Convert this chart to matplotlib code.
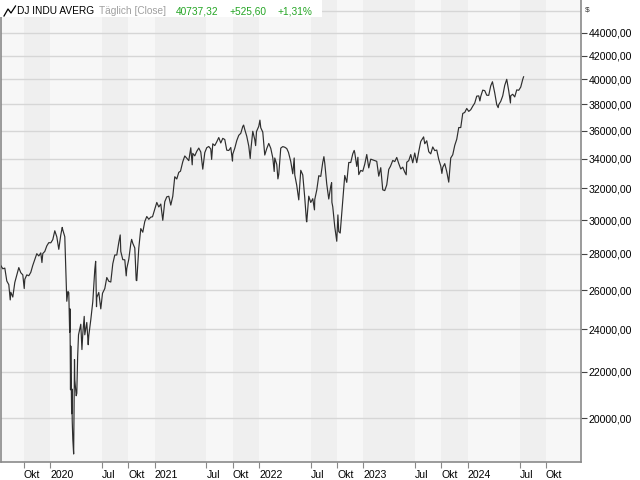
import matplotlib
matplotlib.use("Agg")
import matplotlib.pyplot as plt
import matplotlib.dates as mdates
from matplotlib.patches import Rectangle
from matplotlib.lines import Line2D
from matplotlib.ticker import FixedLocator, NullLocator, FixedFormatter
import pandas as pd

plt.rcParams['font.family'] = ['Liberation Sans', 'DejaVu Sans']

# ---------------- data ----------------
dates = [
 "2019-07-12","2019-07-19","2019-07-26","2019-08-02","2019-08-09","2019-08-14","2019-08-16","2019-08-23","2019-08-30",
 "2019-09-06","2019-09-13","2019-09-20","2019-09-27","2019-10-02","2019-10-04","2019-10-11","2019-10-18","2019-10-25",
 "2019-11-01","2019-11-08","2019-11-15","2019-11-22","2019-11-29","2019-12-03","2019-12-06","2019-12-13","2019-12-20",
 "2019-12-27","2020-01-03","2020-01-10","2020-01-17","2020-01-24","2020-01-31","2020-02-07","2020-02-12","2020-02-14",
 "2020-02-21","2020-02-28","2020-03-03","2020-03-06","2020-03-09","2020-03-10","2020-03-12","2020-03-13","2020-03-16",
 "2020-03-17","2020-03-18","2020-03-20","2020-03-23","2020-03-26","2020-03-27","2020-04-01","2020-04-03","2020-04-06",
 "2020-04-09","2020-04-17","2020-04-21","2020-04-24","2020-04-29","2020-05-01","2020-05-08","2020-05-13","2020-05-15",
 "2020-05-22","2020-05-29","2020-06-05","2020-06-08","2020-06-11","2020-06-12","2020-06-19","2020-06-26","2020-07-02",
 "2020-07-10","2020-07-17","2020-07-24","2020-07-31","2020-08-07","2020-08-14","2020-08-21","2020-08-28","2020-09-02",
 "2020-09-04","2020-09-11","2020-09-18","2020-09-23","2020-09-25","2020-10-02","2020-10-09","2020-10-12","2020-10-16",
 "2020-10-23","2020-10-28","2020-10-30","2020-11-06","2020-11-13","2020-11-20","2020-11-27","2020-12-04","2020-12-11",
 "2020-12-18","2020-12-24","2020-12-31","2021-01-08","2021-01-15","2021-01-22","2021-01-29","2021-02-05","2021-02-12",
 "2021-02-19","2021-02-26","2021-03-05","2021-03-12","2021-03-19","2021-03-26","2021-04-01","2021-04-09","2021-04-16",
 "2021-04-23","2021-04-30","2021-05-07","2021-05-12","2021-05-14","2021-05-21","2021-05-28","2021-06-04","2021-06-11",
 "2021-06-18","2021-06-25","2021-07-02","2021-07-09","2021-07-16","2021-07-19","2021-07-23","2021-07-30","2021-08-06",
 "2021-08-13","2021-08-20","2021-08-27","2021-09-03","2021-09-10","2021-09-17","2021-09-24","2021-09-30","2021-10-01",
 "2021-10-08","2021-10-15","2021-10-22","2021-10-29","2021-11-05","2021-11-08","2021-11-12","2021-11-19","2021-11-26",
 "2021-12-01","2021-12-03","2021-12-10","2021-12-17","2021-12-20","2021-12-23","2021-12-31","2022-01-04","2022-01-07",
 "2022-01-14","2022-01-21","2022-01-28","2022-02-04","2022-02-11","2022-02-18","2022-02-23","2022-02-25","2022-03-04",
 "2022-03-08","2022-03-11","2022-03-18","2022-03-25","2022-04-01","2022-04-08","2022-04-14","2022-04-22","2022-04-29",
 "2022-05-04","2022-05-06","2022-05-13","2022-05-20","2022-05-27","2022-06-03","2022-06-10","2022-06-16","2022-06-17",
 "2022-06-24","2022-07-01","2022-07-08","2022-07-14","2022-07-15","2022-07-22","2022-07-29","2022-08-05","2022-08-12",
 "2022-08-16","2022-08-19","2022-08-26","2022-09-02","2022-09-09","2022-09-12","2022-09-13","2022-09-16","2022-09-23",
 "2022-09-30","2022-10-04","2022-10-07","2022-10-12","2022-10-14","2022-10-21","2022-10-28","2022-11-04","2022-11-11",
 "2022-11-18","2022-11-25","2022-11-30","2022-12-02","2022-12-09","2022-12-13","2022-12-16","2022-12-23","2022-12-30",
 "2023-01-06","2023-01-13","2023-01-20","2023-01-27","2023-02-03","2023-02-10","2023-02-17","2023-02-24","2023-03-03",
 "2023-03-10","2023-03-17","2023-03-24","2023-03-31","2023-04-06","2023-04-14","2023-04-21","2023-04-28","2023-05-05",
 "2023-05-12","2023-05-19","2023-05-26","2023-05-31","2023-06-02","2023-06-09","2023-06-16","2023-06-23","2023-06-30",
 "2023-07-07","2023-07-14","2023-07-21","2023-07-28","2023-07-31","2023-08-04","2023-08-11","2023-08-18","2023-08-25",
 "2023-09-01","2023-09-08","2023-09-15","2023-09-22","2023-09-29","2023-10-03","2023-10-06","2023-10-13","2023-10-20",
 "2023-10-27","2023-11-03","2023-11-10","2023-11-17","2023-11-24","2023-12-01","2023-12-08","2023-12-15","2023-12-22",
 "2023-12-29","2024-01-05","2024-01-12","2024-01-19","2024-01-26","2024-02-02","2024-02-09","2024-02-13","2024-02-16",
 "2024-02-23","2024-03-01","2024-03-08","2024-03-15","2024-03-22","2024-03-28","2024-04-05","2024-04-12","2024-04-17",
 "2024-04-19","2024-04-26","2024-05-03","2024-05-10","2024-05-17","2024-05-24","2024-05-30","2024-05-31","2024-06-07",
 "2024-06-14","2024-06-21","2024-06-28","2024-07-05","2024-07-12","2024-07-15",
]
closes = [
 27332,27154,27192,26485,26287,25479,25886,25629,26403,
 26797,27220,26935,26820,26079,26573,26817,26770,26958,
 27347,27681,28005,27876,28051,27503,28015,28135,28455,
 28645,28634,28823,29348,28989,28256,29102,29551,29398,
 28992,25409,25917,25864,23851,25018,21200,23185,20189,
 21237,19899,19174,18592,22552,21636,20944,21053,22680,
 23719,24242,23019,23775,24634,23724,24331,23248,23685,
 24465,25383,27111,27572,25128,25606,25871,25016,25827,
 26075,26672,26470,26428,27433,27931,27930,28654,29100,
 28133,27666,27657,26763,27174,27683,28587,28838,28606,
 28336,26520,26502,28323,29480,29263,29910,30218,30046,
 30179,30200,30606,31098,30814,30997,29983,31148,31458,
 31494,30932,31496,32779,32628,33073,33153,33801,34200,
 34043,33875,34778,33587,34382,34208,34529,34756,34480,
 33290,34434,34786,34870,34688,33962,35062,34935,35209,
 35515,35120,35456,35369,34608,34585,34798,33844,34326,
 34746,35295,35677,35820,36328,36432,36100,35602,34899,
 34022,34580,35971,35365,34932,35951,36338,36800,36231,
 35912,34265,34725,35089,34738,34079,33132,34059,33615,
 32633,32945,34755,34861,34818,34721,34451,33811,32977,
 34061,32899,32197,31262,33213,32900,31393,29927,29889,
 31501,31097,31338,30630,31289,31899,32845,32803,33761,
 34152,33707,32283,31318,32152,32381,31105,30822,29590,
 28726,30317,29297,29211,29635,31083,32862,32403,33748,
 33746,34347,34590,34430,33477,34109,32920,33204,33147,
 33631,34303,33375,33978,33926,33869,33827,32817,33391,
 31910,31862,32238,33274,33485,33887,33809,34098,33674,
 33301,33427,33093,32908,33763,33877,34299,33727,34408,
 33735,34509,35228,35459,35560,35066,35281,34500,34347,
 34838,34577,34618,33964,33508,33002,33408,33670,33127,
 32418,34061,34283,34947,35390,36246,36248,37306,37385,
 37690,37466,37593,37863,38109,38654,38671,38273,38628,
 39131,39087,38723,38715,39475,39807,38904,37983,37753,
 37986,38240,38676,39513,40004,39070,38112,38686,38799,
 38589,39150,39119,39376,40001,40212,
]
y_ticks = [20000, 22000, 24000, 26000, 28000, 30000, 32000, 34000, 36000, 38000, 40000, 42000, 44000, 46000]
y_labels = ["20000,00", "22000,00", "24000,00", "26000,00", "28000,00", "30000,00", "32000,00",
            "34000,00", "36000,00", "38000,00", "40000,00", "42000,00", "44000,00", ""]
x_tick_dates = ["2019-10-01", "2020-01-01", "2020-07-01", "2020-10-01", "2021-01-01", "2021-07-01",
                "2021-10-01", "2022-01-01", "2022-07-01", "2022-10-01", "2023-01-01", "2023-07-01",
                "2023-10-01", "2024-01-01", "2024-07-01", "2024-10-01"]
x_tick_labels = ["Okt", "2020", "Jul", "Okt", "2021", "Jul", "Okt", "2022", "Jul", "Okt", "2023",
                 "Jul", "Okt", "2024", "Jul", "Okt"]
title_name = "DJ INDU AVERG"
title_mode = "Täglich [Close]"
last_value = "40737,32"
change_abs = "+525,60"
change_pct = "+1,31%"

# ---------------- figure ----------------
W, H = 640, 480
fig = plt.figure(figsize=(6.4, 4.8), dpi=100)
fig.patch.set_facecolor("white")
ax = fig.add_axes([0.8 / W, 18 / H, 580.5 / W, 1 - 18 / H])

x = mdates.date2num(pd.to_datetime(dates))
xmin = mdates.date2num(pd.Timestamp("2019-07-12"))
xmax = mdates.date2num(pd.Timestamp("2025-02-02"))
ax.set_xlim(xmin, xmax)
ax.set_yscale("log")
ax.set_ylim(18290, 47050)

# alternating background bands
edges = [xmin] + list(mdates.date2num(pd.to_datetime(x_tick_dates))) + [xmax]
for i in range(len(edges) - 1):
    col = "#f7f7f7" if i % 2 == 0 else "#efefef"
    ax.axvspan(edges[i], edges[i + 1], color=col, lw=0, zorder=0)

ax.set_facecolor("#f7f7f7")
for yv in y_ticks:
    ax.axhline(yv, color="#d6d6d6", lw=1.0, zorder=1)

ax.plot(x, closes, color="#2e2e2e", lw=0.85, zorder=3)

# y axis on the right
ax.yaxis.tick_right()
ax.yaxis.set_major_locator(FixedLocator(y_ticks))
ax.yaxis.set_major_formatter(FixedFormatter(y_labels))
ax.yaxis.set_minor_locator(NullLocator())
ax.tick_params(axis="y", which="major", length=4, width=0.8, color="#444444",
               labelsize=7.6, pad=1.5, labelcolor="black")
ax.yaxis.get_major_ticks()[-1].tick2line.set_visible(False)

# x axis
ax.xaxis.set_major_locator(FixedLocator(mdates.date2num(pd.to_datetime(x_tick_dates))))
ax.xaxis.set_major_formatter(FixedFormatter(x_tick_labels))
ax.xaxis.set_minor_locator(NullLocator())
ax.tick_params(axis="x", which="major", length=4, width=0.8, color="#888888",
               labelsize=7.6, pad=1.5, labelcolor="black")
for lab in ax.get_xticklabels():
    lab.set_horizontalalignment("left")

for s in ["left", "right", "bottom"]:
    ax.spines[s].set_color("#8a8a8a")
    ax.spines[s].set_linewidth(1.2)
ax.spines["top"].set_visible(False)

# "$" unit label
fig.text(585 / W, 1 - 10.5 / H, "$", fontsize=6, color="#333333", va="center", ha="left")

# title box
fig.add_artist(Rectangle((0, 1 - 17 / H), 322 / W, 17 / H, transform=fig.transFigure,
                         facecolor="white", edgecolor="none", zorder=5))
icon = Line2D(
    [4 / W, 8 / W, 11 / W, 15.5 / W],
    [1 - 16 / H, 1 - 9 / H, 1 - 13 / H, 1 - 6 / H],
    transform=fig.transFigure, color="black", lw=0.9, zorder=6)
fig.add_artist(icon)
base = 1 - 14.5 / H
fs = 7.3
green = "#24a524"
fig.text(17 / W, base, title_name, fontsize=fs, color="black", va="baseline", zorder=6)
fig.text(99 / W, base, title_mode, fontsize=fs, color="#a0a0a0", va="baseline", zorder=6)
fig.text(176 / W, base, last_value, fontsize=fs, color=green, va="baseline", zorder=6)
fig.text(229 / W, base, change_abs, fontsize=fs, color=green, va="baseline", zorder=6)
fig.text(277 / W, base, change_pct, fontsize=fs, color=green, va="baseline", zorder=6)

fig.savefig("out.png", dpi=100, facecolor="white")
